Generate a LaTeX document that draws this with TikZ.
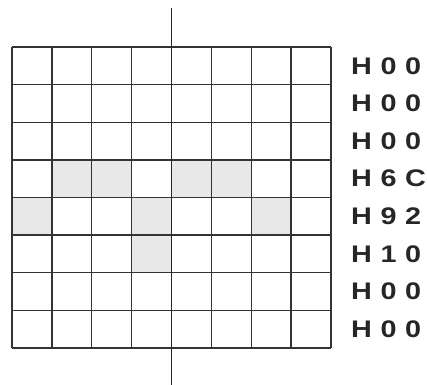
\documentclass[tikz,border=0pt]{standalone}
\usepackage{fontspec}
\newfontfamily\hexfont[LetterSpace=36,FakeStretch=1.2]{Liberation Sans Bold}

\begin{document}
\begin{tikzpicture}[
    x=39.875pt, y=-37.625pt,
    cell/.style={fill=black!9},
    gridline/.style={draw=black!80, line width=1.4pt, xstep=39.875pt, ystep=37.625pt},
    axisline/.style={draw=black!85, line width=1.4pt},
    hexcode/.style={
        anchor=west, inner sep=0pt, text=black!85,
        font=\hexfont\fontsize{24}{24}\selectfont
    },
]
\useasboundingbox (-0.301,-1.249) rectangle (10.407,8.983);

% ── Lit pixels ───────────────────────────────────────────────
\fill[cell] (1,3) rectangle (3,4);
\fill[cell] (4,3) rectangle (6,4);
\fill[cell] (0,4) rectangle (1,5);
\fill[cell] (3,4) rectangle (4,6);
\fill[cell] (6,4) rectangle (7,5);

% ── 8x8 matrix ───────────────────────────────────────────────
\draw[gridline] (0,0) grid (8,8);

% ── Centre axis ──────────────────────────────────────────────
\coordinate (axtop) at (4,-1.037);
\coordinate (axbot) at (4,8.983);
\draw[axisline] (axtop) -- (axbot);

% ── Row codes ────────────────────────────────────────────────
\node[hexcode] (r0) at (8.5,0.5) {H00};
\node[hexcode] (r1) at (8.5,1.5) {H00};
\node[hexcode] (r2) at (8.5,2.5) {H00};
\node[hexcode] (r3) at (8.5,3.5) {H6C};
\node[hexcode] (r4) at (8.5,4.5) {H92};
\node[hexcode] (r5) at (8.5,5.5) {H10};
\node[hexcode] (r6) at (8.5,6.5) {H00};
\node[hexcode] (r7) at (8.5,7.5) {H00};

\end{tikzpicture}
\end{document}
